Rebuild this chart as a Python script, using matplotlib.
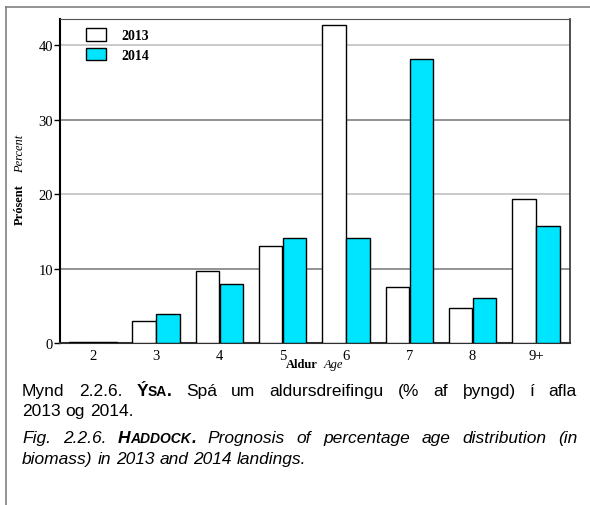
import matplotlib
matplotlib.use("Agg")
from matplotlib import pyplot as plt
from matplotlib.lines import Line2D
from matplotlib.transforms import IdentityTransform
import numpy as np

ages = ["2", "3", "4", "5", "6", "7", "8", "9+"]
pct_2013 = [0.2, 3.0, 9.6, 13.0, 42.7, 7.5, 4.7, 19.4]
pct_2014 = [0.2, 3.9, 7.9, 14.1, 14.1, 38.1, 6.1, 15.7]

W, H = 590, 506
serif = "Liberation Serif"
sans = "Liberation Sans"

fig = plt.figure(figsize=(W / 100, H / 100), dpi=100)
fig.patch.set_facecolor("white")

# page frame (top and left edge only)
fig.add_artist(Line2D([6 / W, 1.0], [1 - 8 / H, 1 - 8 / H], color="#808080", lw=1.2))
fig.add_artist(Line2D([6 / W, 6 / W], [0.0, 1 - 8 / H], color="#808080", lw=1.2))

ax = fig.add_axes([60 / W, 1 - 344 / H, 510 / W, 324 / H])
x = np.arange(len(ages))
w = 0.37
ax.bar(x - 0.19, pct_2013, w, color="white", edgecolor="black", lw=1.0, label="2013", zorder=3)
ax.bar(x + 0.19, pct_2014, w, color="#00e5ff", edgecolor="black", lw=1.0, label="2014", zorder=3)

for v, c in [(10, "#808080"), (20, "#c0c0c0"), (30, "#808080"), (40, "#c0c0c0")]:
    ax.axhline(v, color=c, lw=1.2, zorder=1)

ax.set_xlim(-0.52, 7.54)
ax.set_ylim(0, 43.5)
ax.set_yticks([0, 10, 20, 30, 40])
ax.set_xticks(x)
ax.set_xticklabels(ages)
ax.tick_params(axis="x", length=0, pad=4)
ax.tick_params(axis="y", length=4, width=1, direction="out", pad=1)
for lab in ax.get_xticklabels() + ax.get_yticklabels():
    lab.set_fontfamily(serif)
    lab.set_fontsize(10.5)
ax.spines["left"].set_linewidth(1.5)
ax.spines["left"].set_color("black")
ax.spines["bottom"].set_linewidth(1.5)
ax.spines["bottom"].set_color("#303030")
ax.spines["top"].set_color("#505050")
ax.spines["right"].set_color("#303030")
ax.spines["right"].set_linewidth(1.2)

leg = ax.legend(loc="upper left", bbox_to_anchor=(0.051, 0.972), frameon=False,
                borderpad=0, borderaxespad=0, handlelength=1.45, handleheight=1.0,
                handletextpad=1.1, labelspacing=0.4,
                prop={"family": serif, "weight": "bold", "size": 10})

# axis titles
fig.text(20 / W, 1 - 205 / H, "Prósent", rotation=90, ha="center", va="center",
         family=serif, weight="bold", size=9)
fig.text(20 / W, 1 - 154 / H, "Percent", rotation=90, ha="center", va="center",
         family=serif, style="italic", size=9)
fig.text(318 / W, 1 - 368 / H, "Aldur", ha="right", va="baseline",
         family=serif, weight="bold", size=9)
fig.text(324 / W, 1 - 368 / H, "Age", ha="left", va="baseline",
         family=serif, style="italic", size=9)

# caption
fig.canvas.draw()
rend = fig.canvas.get_renderer()
fs = 12.5
sc = 10


def put_line(words, y_top, x0=22, x1=577, justify=True):
    ybase = H - y_top
    objs = []
    widths = []
    for word in words:
        pieces = []
        ww = 0
        for s, kw in word:
            t = fig.text(0, 0, s, transform=IdentityTransform(), va="baseline",
                         ha="left", family=sans, **kw)
            bw = t.get_window_extent(rend).width
            pieces.append((t, bw))
            ww += bw
        objs.append(pieces)
        widths.append(ww)
    if justify and len(words) > 1:
        gap = (x1 - x0 - sum(widths)) / (len(words) - 1)
    else:
        sp = fig.text(0, 0, "a a", transform=IdentityTransform(), family=sans, size=fs)
        sp2 = fig.text(0, 0, "aa", transform=IdentityTransform(), family=sans, size=fs)
        gap = sp.get_window_extent(rend).width - sp2.get_window_extent(rend).width
        sp.remove()
        sp2.remove()
    cx = x0
    for pieces, ww in zip(objs, widths):
        px = cx
        for t, bw in pieces:
            t.set_position((px, ybase))
            px += bw
        cx += ww + gap


n = {"size": fs}
b = {"size": fs, "weight": "bold"}
bs = {"size": sc, "weight": "bold"}
it = {"size": fs, "style": "italic"}
bi = {"size": fs, "style": "italic", "weight": "bold"}
bis = {"size": sc, "style": "italic", "weight": "bold"}

line1 = [[("Mynd", n)], [("2.2.6.", n)], [("Ý", b), ("SA", bs), (".", b)], [("Spá", n)],
         [("um", n)], [("aldursdreifingu", n)], [("(%", n)], [("af", n)],
         [("þyngd)", n)], [("í", n)], [("afla", n)]]
line2 = [[(s, n)] for s in "2013 og 2014.".split()]
line3 = [[("Fig.", it)], [("2.2.6.", it)], [("H", bi), ("ADDOCK", bis), (".", bi)]] + \
        [[(s, it)] for s in "Prognosis of percentage age distribution (in".split()]
line4 = [[(s, it)] for s in "biomass) in 2013 and 2014 landings.".split()]

put_line(line1, 396)
put_line(line2, 416, justify=False)
put_line(line3, 443)
put_line(line4, 464, justify=False)

fig.savefig("out.png", dpi=100)
